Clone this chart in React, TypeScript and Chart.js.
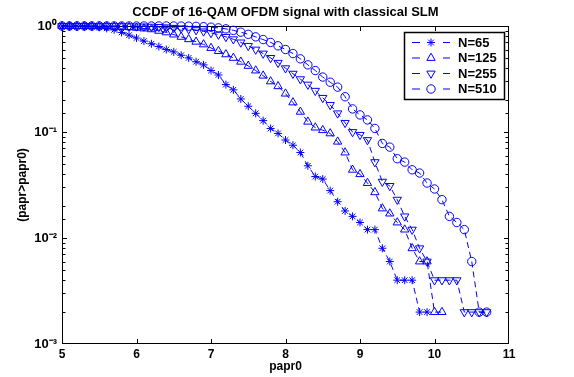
import React, { useEffect, useRef } from 'react';
import { Chart, registerables } from 'chart.js';
import { drawPoint } from 'chart.js/helpers';

Chart.register(...registerables);

const chartTitle = 'CCDF of 16-QAM OFDM signal with classical SLM';
const xAxisLabel = 'papr0';
const yAxisLabel = '(papr>papr0)';

const papr0 = [
  5.0, 5.1, 5.2, 5.3, 5.4, 5.5, 5.6, 5.7, 5.8, 5.9,
  6.0, 6.1, 6.2, 6.3, 6.4, 6.5, 6.6, 6.7, 6.8, 6.9,
  7.0, 7.1, 7.2, 7.3, 7.4, 7.5, 7.6, 7.7, 7.8, 7.9,
  8.0, 8.1, 8.2, 8.3, 8.4, 8.5, 8.6, 8.7, 8.8, 8.9,
  9.0, 9.1, 9.2, 9.3, 9.4, 9.5, 9.6, 9.7, 9.8, 9.9,
  10.0, 10.1, 10.2, 10.3, 10.4, 10.5, 10.6, 10.7,
];

const ccdfN65 = [
  1.0, 0.999, 0.998, 0.994, 0.986, 0.972, 0.95, 0.92, 0.87, 0.82,
  0.77, 0.72, 0.68, 0.64, 0.6, 0.57, 0.53, 0.5, 0.46, 0.43,
  0.38, 0.345, 0.28, 0.25, 0.205, 0.175, 0.15, 0.128, 0.108, 0.097,
  0.084, 0.075, 0.064, 0.048, 0.038, 0.036, 0.028, 0.022, 0.018, 0.016,
  0.014, 0.012, 0.012, 0.008, 0.006, 0.004, 0.004, 0.004, 0.002, 0.002,
];

const ccdfN125 = [
  1.0, 1.0, 1.0, 0.999, 0.998, 0.996, 0.993, 0.988, 0.982, 0.973,
  0.962, 0.947, 0.93, 0.9, 0.87, 0.83, 0.79, 0.75, 0.71, 0.67,
  0.62, 0.58, 0.54, 0.5, 0.46, 0.42, 0.38, 0.34, 0.3, 0.27,
  0.23, 0.19, 0.155, 0.125, 0.11, 0.104, 0.097, 0.081, 0.064, 0.044,
  0.04, 0.033, 0.027, 0.019, 0.017, 0.014, 0.012, 0.008, 0.006, 0.006,
  0.002, 0.002,
];

const ccdfN255 = [
  1.0, 1.0, 1.0, 1.0, 1.0, 0.999, 0.999, 0.998, 0.997, 0.995,
  0.993, 0.99, 0.986, 0.98, 0.972, 0.962, 0.95, 0.935, 0.915, 0.89,
  0.86, 0.83, 0.79, 0.75, 0.7, 0.65, 0.6, 0.55, 0.5, 0.45,
  0.4, 0.355, 0.315, 0.28, 0.245, 0.21, 0.18, 0.15, 0.122, 0.1,
  0.094, 0.084, 0.052, 0.034, 0.031, 0.023, 0.016, 0.012, 0.008, 0.006,
  0.004, 0.004, 0.004, 0.004, 0.002, 0.002, 0.002, 0.002,
];

const ccdfN510 = [
  1.0, 1.0, 1.0, 1.0, 1.0, 1.0, 1.0, 1.0, 1.0, 1.0,
  1.0, 1.0, 1.0, 1.0, 1.0, 0.999, 0.998, 0.996, 0.992, 0.985,
  0.975, 0.96, 0.94, 0.91, 0.875, 0.835, 0.79, 0.745, 0.7, 0.65,
  0.6, 0.55, 0.49, 0.43, 0.38, 0.33, 0.295, 0.265, 0.215, 0.165,
  0.145, 0.13, 0.108, 0.078, 0.072, 0.056, 0.052, 0.044, 0.041, 0.033,
  0.029, 0.023, 0.016, 0.014, 0.012, 0.006, 0.002, 0.002,
];

const seriesLabels = ['N=65', 'N=125', 'N=255', 'N=510'];
const seriesValues = [ccdfN65, ccdfN125, ccdfN255, ccdfN510];
const seriesMarkers = ['star', 'triangle', 'triangle', 'circle'];
const seriesRotations = [0, 0, 180, 0];
const seriesRadii = [4, 4.8, 4.8, 4.2];

const xMin = 5;
const xMax = 11;
const yMin = 0.001;
const yMax = 1;

const BLUE = '#0000ff';
const FONT = '"Liberation Sans", Arial, Helvetica, sans-serif';

const SUP: Record<string, string> = {
  '-': '\u207B', '0': '\u2070', '1': '\u00B9', '2': '\u00B2', '3': '\u00B3',
  '4': '\u2074', '5': '\u2075', '6': '\u2076', '7': '\u2077', '8': '\u2078', '9': '\u2079',
};
const toSup = (n: number) => String(n).split('').map((c) => SUP[c] || c).join('');

const decorPlugin = {
  id: 'matlabDecor',
  beforeDatasetsDraw(chart: any) {
    const { ctx, chartArea, scales } = chart;
    const { left, right, top, bottom } = chartArea;
    const xs = scales.x;
    const ys = scales.y;
    ctx.save();
    ctx.strokeStyle = '#000';
    ctx.lineWidth = 1;
    ctx.beginPath();
    const L = Math.round(left) + 0.5;
    const R = Math.round(right) - 0.5;
    const T = Math.round(top) + 0.5;
    const B = Math.round(bottom) - 0.5;
    xs.ticks.forEach((t: any) => {
      const px = Math.round(xs.getPixelForValue(t.value)) + 0.5;
      if (px <= L + 1 || px >= R - 1) return;
      ctx.moveTo(px, B);
      ctx.lineTo(px, B - 4.5);
      ctx.moveTo(px, T);
      ctx.lineTo(px, T + 4.5);
    });
    ys.ticks.forEach((t: any) => {
      const py = Math.round(ys.getPixelForValue(t.value)) + 0.5;
      if (py <= T + 1 || py >= B - 1) return;
      const e = Math.log10(t.value);
      const major = Math.abs(e - Math.round(e)) < 1e-6;
      const len = major ? 4.5 : 3;
      ctx.moveTo(L, py);
      ctx.lineTo(L + len, py);
      ctx.moveTo(R, py);
      ctx.lineTo(R - len, py);
    });
    ctx.stroke();
    ctx.strokeRect(L, T, R - L, B - T);
    ctx.restore();
  },
  afterDatasetsDraw(chart: any) {
    const { ctx, chartArea } = chart;
    const bx = Math.round(chartArea.right) - 105;
    const by = Math.round(chartArea.top) + 6;
    const bw = 100;
    const bh = 67;
    ctx.save();
    ctx.fillStyle = '#fff';
    ctx.fillRect(bx, by, bw, bh);
    ctx.strokeStyle = '#000';
    ctx.lineWidth = 1.5;
    ctx.strokeRect(bx + 0.5, by + 0.5, bw, bh);
    chart.data.datasets.forEach((ds: any, i: number) => {
      const cy = by + 10.5 + i * 15.5;
      ctx.strokeStyle = BLUE;
      ctx.lineWidth = 1;
      ctx.setLineDash([8, 23]);
      ctx.beginPath();
      ctx.moveTo(bx + 8, cy);
      ctx.lineTo(bx + 46, cy);
      ctx.stroke();
      ctx.setLineDash([]);
      ctx.fillStyle = 'rgba(0,0,0,0)';
      ctx.strokeStyle = BLUE;
      drawPoint(
        ctx,
        {
          pointStyle: ds.pointStyle,
          rotation: ds.pointRotation,
          radius: ds.pointRadius,
          borderWidth: 1,
        } as any,
        bx + 27,
        cy
      );
      ctx.fillStyle = '#000';
      ctx.font = `bold 13px ${FONT}`;
      ctx.textBaseline = 'middle';
      ctx.textAlign = 'left';
      ctx.fillText(ds.label, bx + 54, cy + 0.5);
    });
    ctx.restore();
  },
  afterDraw(chart: any) {
    const { ctx, chartArea } = chart;
    ctx.save();
    ctx.fillStyle = '#000';
    ctx.font = `bold 13px ${FONT}`;
    ctx.textAlign = 'center';
    ctx.textBaseline = 'middle';
    ctx.fillText(chartTitle, (chartArea.left + chartArea.right) / 2, 12.5);
    ctx.restore();
  },
};

export default function App() {
  const canvasRef = useRef<HTMLCanvasElement | null>(null);

  useEffect(() => {
    const canvas = canvasRef.current;
    if (!canvas) return;
    const datasets = seriesLabels.map((label, i) => ({
      label,
      data: seriesValues[i].map((v, j) => ({ x: papr0[j], y: v })),
      borderColor: BLUE,
      backgroundColor: BLUE,
      borderWidth: 1,
      borderDash: [6, 4],
      pointStyle: seriesMarkers[i],
      pointRotation: seriesRotations[i],
      pointRadius: seriesRadii[i],
      pointBorderWidth: 1,
      pointBorderColor: BLUE,
      pointBackgroundColor: 'rgba(0,0,0,0)',
      fill: false,
      tension: 0,
      clip: false as any,
    }));

    const chart = new Chart(canvas, {
      type: 'line',
      data: { datasets },
      plugins: [decorPlugin],
      options: {
        animation: false,
        responsive: false,
        devicePixelRatio: 1,
        events: [],
        layout: { padding: { left: 0, right: 65, top: 26, bottom: 0 } },
        plugins: {
          legend: { display: false },
          title: { display: false },
          tooltip: { enabled: false },
        },
        scales: {
          x: {
            type: 'linear',
            min: xMin,
            max: xMax,
            grid: { display: false, drawTicks: false },
            border: { display: false },
            ticks: {
              stepSize: 1,
              autoSkip: false,
              maxRotation: 0,
              padding: 3,
              color: '#000',
              font: { family: FONT, weight: 'bold', size: 12 },
            },
            title: {
              display: true,
              text: xAxisLabel,
              color: '#000',
              font: { family: FONT, weight: 'bold', size: 12 },
              padding: { top: 0, bottom: 3 },
            },
            afterFit: (s: any) => {
              s.height = 33;
            },
          },
          y: {
            type: 'logarithmic',
            min: yMin,
            max: yMax,
            grid: { display: false, drawTicks: false },
            border: { display: false },
            ticks: {
              autoSkip: false,
              padding: 5,
              color: '#000',
              font: { family: FONT, weight: 'bold', size: 13 },
              callback: (v: any) => {
                const e = Math.log10(Number(v));
                const r = Math.round(e);
                return Math.abs(e - r) < 1e-6 ? '10' + toSup(r) : '';
              },
            },
            title: {
              display: true,
              text: yAxisLabel,
              color: '#000',
              font: { family: FONT, weight: 'bold', size: 12 },
              padding: { top: 15, bottom: 0 },
            },
            afterFit: (s: any) => {
              s.width = 62;
            },
          },
        },
      } as any,
    });
    return () => chart.destroy();
  }, []);

  return (
    <div style={{ position: 'fixed', left: 0, top: 0, width: 574, height: 377, background: '#fff' }}>
      <canvas ref={canvasRef} width={574} height={377} style={{ display: 'block', width: 574, height: 377 }} />
    </div>
  );
}
